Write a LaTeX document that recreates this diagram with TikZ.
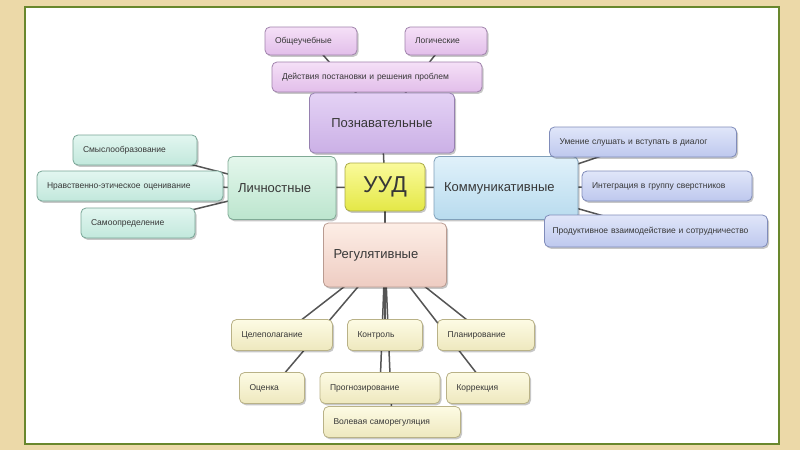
\documentclass[tikz,border=0pt]{standalone}
\usepackage{fontspec}
\setmainfont{Liberation Sans}
\usetikzlibrary{shadows}
\pgfdeclarelayer{bg}
\pgfdeclarelayer{edges}
\pgfsetlayers{bg,edges,main}
\definecolor{beige}{RGB}{236,217,168}
\definecolor{frameg}{RGB}{105,135,45}
\definecolor{edgec}{RGB}{85,85,85}
\definecolor{txt}{RGB}{55,55,55}
\tikzset{
  box/.style={rounded corners=5pt, line width=0.8pt, inner xsep=10pt, inner ysep=0pt,
    align=left, text=txt, font=\fontsize{8.5}{10}\selectfont,
    drop shadow={shadow xshift=1.5pt, shadow yshift=-1.8pt, opacity=0.22, fill=black}},
  big/.style={box, font=\fontsize{13}{15}\selectfont},
  ppink/.style={top color={rgb,255:red,245;green,224;blue,247}, bottom color={rgb,255:red,226;green,190;blue,234}, draw={rgb,255:red,160;green,130;blue,172}},
  ppurp/.style={top color={rgb,255:red,228;green,210;blue,245}, bottom color={rgb,255:red,203;green,176;blue,230}, draw={rgb,255:red,150;green,128;blue,176}},
  pgreenb/.style={top color={rgb,255:red,228;green,247;blue,236}, bottom color={rgb,255:red,188;green,229;blue,206}, draw={rgb,255:red,128;green,170;blue,150}},
  pgreen/.style={top color={rgb,255:red,226;green,246;blue,240}, bottom color={rgb,255:red,194;green,232;blue,220}, draw={rgb,255:red,120;green,165;blue,150}},
  pblueb/.style={top color={rgb,255:red,224;green,241;blue,250}, bottom color={rgb,255:red,184;green,219;blue,238}, draw={rgb,255:red,128;green,160;blue,186}},
  pblue/.style={top color={rgb,255:red,224;green,230;blue,249}, bottom color={rgb,255:red,190;green,200;blue,238}, draw={rgb,255:red,128;green,140;blue,186}},
  pyellow/.style={top color={rgb,255:red,250;green,250;blue,155}, bottom color={rgb,255:red,228;green,232;blue,70}, draw={rgb,255:red,170;green,170;blue,70}},
  ppeach/.style={top color={rgb,255:red,253;green,238;blue,230}, bottom color={rgb,255:red,238;green,204;blue,194}, draw={rgb,255:red,185;green,155;blue,145}},
  pcream/.style={top color={rgb,255:red,253;green,251;blue,228}, bottom color={rgb,255:red,238;green,232;blue,190}, draw={rgb,255:red,185;green,178;blue,135}},
  link/.style={draw=edgec, line width=1.5pt}
}
\begin{document}
\begin{tikzpicture}[x=1pt,y=-1pt]
\begin{pgfonlayer}{bg}
\fill[beige] (0,0) rectangle (800,450);
\draw[frameg, line width=2.6pt, fill=white] (25,7) rectangle (779,444);
\end{pgfonlayer}
\useasboundingbox (0,0) rectangle (800,450);

% top group
\node[box, ppink, minimum height=28pt, text width=72pt] (obsh) at (311,41) {Общеучебные};
\node[box, ppink, minimum height=28pt, text width=62pt] (logic) at (446,41) {Логические};
\node[box, ppink, minimum height=30pt, text width=190pt] (deistv) at (377,77) {Действия постановки и решения проблем};
\node[big, ppurp, minimum height=60pt, text width=125pt, align=center] (pozn) at (382,123) {Познавательные};

% centre
\node[box, pyellow, minimum height=48pt, text width=60pt, align=center, font=\fontsize{23}{26}\selectfont] (uud) at (385,187) {УУД};
\node[big, pgreenb, minimum height=63pt, text width=88pt] (lich) at (282,188) {Личностные};
\node[big, pblueb, minimum height=63pt, text width=124pt] (komm) at (506,188) {Коммуникативные};
\node[big, ppeach, minimum height=64pt, text width=103pt] (reg) at (385,255) {Регулятивные};

% left group
\node[box, pgreen, minimum height=30pt, text width=104pt] (smysl) at (135,150) {Смыслообразование};
\node[box, pgreen, minimum height=30pt, text width=166pt] (nrav) at (130,186) {Нравственно-этическое оценивание};
\node[box, pgreen, minimum height=30pt, text width=94pt] (samo) at (138,223) {Самоопределение};

% right group
\node[box, pblue, minimum height=30pt, text width=167pt] (umen) at (643,142) {Умение слушать и вступать в диалог};
\node[box, pblue, minimum height=30pt, text width=150pt] (integr) at (667,186) {Интеграция в группу сверстников};
\node[box, pblue, minimum height=32pt, text width=207pt, inner xsep=8pt] (prod) at (656,231) {Продуктивное взаимодействие и сотрудничество};

% bottom group
\node[box, pcream, minimum height=31pt, text width=81pt] (cel) at (282,335) {Целеполагание};
\node[box, pcream, minimum height=31pt, text width=55pt] (kontr) at (385,335) {Контроль};
\node[box, pcream, minimum height=31pt, text width=77pt] (plan) at (486,335) {Планирование};
\node[box, pcream, minimum height=31pt, text width=45pt] (ocen) at (272,388) {Оценка};
\node[box, pcream, minimum height=31pt, text width=100pt] (progn) at (380,388) {Прогнозирование};
\node[box, pcream, minimum height=31pt, text width=63pt] (korr) at (488,388) {Коррекция};
\node[box, pcream, minimum height=31pt, text width=117pt] (volev) at (392,422) {Волевая саморегуляция};

\begin{pgfonlayer}{edges}
\draw[link] (pozn.center) -- (obsh.center);
\draw[link] (pozn.center) -- (logic.center);
\draw[link] (uud.center) -- (pozn.center);
\draw[link] (uud.center) -- (lich.center);
\draw[link] (uud.center) -- (komm.center);
\draw[link] (uud.center) -- (reg.center);
\draw[link] (lich.center) -- (smysl.center);
\draw[link] (lich.center) -- (nrav.center);
\draw[link] (lich.center) -- (samo.center);
\draw[link] (komm.center) -- (umen.center);
\draw[link] (komm.center) -- (integr.center);
\draw[link] (komm.center) -- (prod.center);
\draw[link] (reg.center) -- (cel.center);
\draw[link] (reg.center) -- (kontr.center);
\draw[link] (reg.center) -- (plan.center);
\draw[link] (reg.center) -- (ocen.center);
\draw[link] (reg.center) -- (progn.center);
\draw[link] (reg.center) -- (korr.center);
\draw[link] (reg.center) -- (volev.center);
\end{pgfonlayer}
\end{tikzpicture}
\end{document}
